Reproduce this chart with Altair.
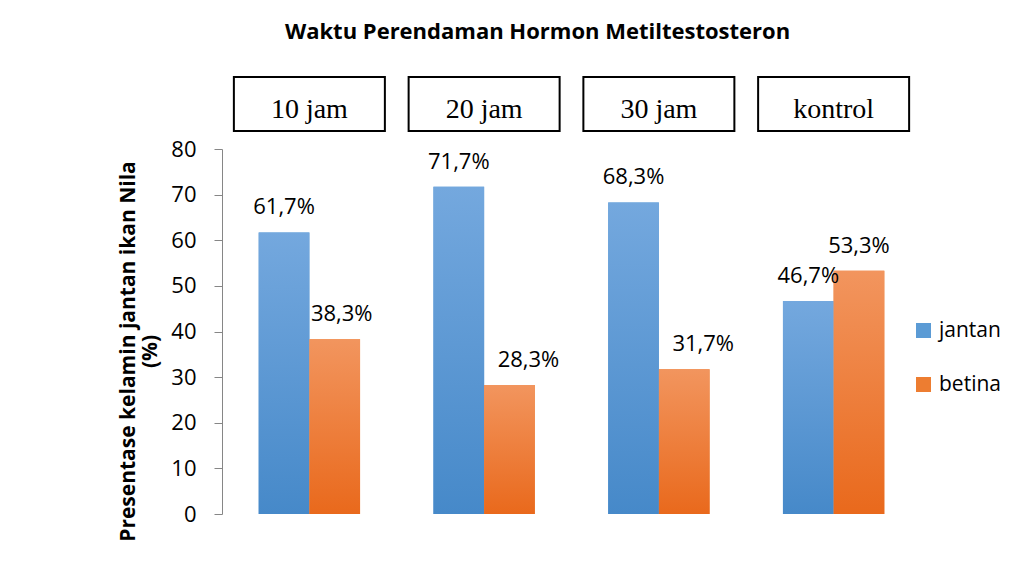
import altair as alt
import pandas as pd

title_text = "Waktu Perendaman Hormon Metiltestosteron"
y_title = ["Presentase kelamin jantan ikan Nila", "(%)"]
categories = ["10 jam", "20 jam", "30 jam", "kontrol"]
series = ["jantan", "betina"]
jantan = [61.7, 71.7, 68.3, 46.7]
betina = [38.3, 28.3, 31.7, 53.3]
y_ticks = [0, 10, 20, 30, 40, 50, 60, 70, 80]

rows = []
for i, c in enumerate(categories):
    for s, vals in zip(series, [jantan, betina]):
        v = vals[i]
        rows.append({"kategori": c, "jenis": s, "nilai": v,
                     "label": f"{v:.1f}".replace(".", ",") + "%"})
df = pd.DataFrame(rows)
cat_df = pd.DataFrame({"kategori": categories})
title_df = pd.DataFrame({"t": [title_text]})

FONT = "Open Sans"

x = alt.X("kategori:N", sort=categories, axis=None,
          scale=alt.Scale(domain=categories, paddingInner=0.42, paddingOuter=0.21))
xoff = alt.XOffset("jenis:N", sort=series,
                   scale=alt.Scale(domain=series, paddingInner=0, paddingOuter=0))
y = alt.Y("nilai:Q",
          scale=alt.Scale(domain=[0, 80], nice=False),
          axis=alt.Axis(values=y_ticks, title=y_title, grid=False,
                        domainColor="#868686", tickColor="#868686", tickSize=8,
                        labelPadding=18, labelFont=FONT, labelFontSize=22,
                        labelColor="black",
                        titleFont=FONT, titleFontSize=21, titleFontWeight="bold",
                        titleColor="black", titleX=-84, titleY=202,
                        titleBaseline="bottom", titleAlign="center",
                        titleLineHeight=22))

blue_grad = alt.Gradient(gradient="linear", x1=0, x2=0, y1=0, y2=1,
                         stops=[alt.GradientStop(color="#74a8de", offset=0),
                                alt.GradientStop(color="#4689c9", offset=1)])
orange_grad = alt.Gradient(gradient="linear", x1=0, x2=0, y1=0, y2=1,
                           stops=[alt.GradientStop(color="#f2955e", offset=0),
                                  alt.GradientStop(color="#e9691c", offset=1)])

bars_base = alt.Chart(df).mark_bar().encode(
    x=x, xOffset=xoff, y=y,
    color=alt.Color("jenis:N", sort=series,
                    scale=alt.Scale(domain=series, range=["#5b9bd5", "#ed7d31"]),
                    legend=alt.Legend(title=None, orient="none", legendX=691,
                                      legendY=171, direction="vertical",
                                      symbolType="square", symbolSize=225,
                                      symbolStrokeWidth=0, labelFont=FONT,
                                      labelFontSize=21, labelColor="black",
                                      rowPadding=32, padding=0, labelOffset=5,
                                      labelLimit=200)),
)
bars_j = alt.Chart(df).transform_filter(alt.datum.jenis == "jantan").mark_bar(
    fill=blue_grad).encode(x=x, xOffset=xoff, y=y)
bars_b = alt.Chart(df).transform_filter(alt.datum.jenis == "betina").mark_bar(
    fill=orange_grad).encode(x=x, xOffset=xoff, y=y)

label_style = dict(font=FONT, fontSize=22, color="black", baseline="alphabetic",
                   align="center", dy=-18)
labels_main = alt.Chart(df).transform_filter(
    "!(datum.jenis == 'betina' && datum.kategori != 'kontrol')"
).mark_text(**label_style).encode(x=x, xOffset=xoff, y=y, text="label:N")
labels_b10 = alt.Chart(df).transform_filter(
    "datum.jenis == 'betina' && datum.kategori == '10 jam'"
).mark_text(dx=7, **label_style).encode(x=x, xOffset=xoff, y=y, text="label:N")
labels_bshift = alt.Chart(df).transform_filter(
    "datum.jenis == 'betina' && (datum.kategori == '20 jam' || datum.kategori == '30 jam')"
).mark_text(dx=19, **label_style).encode(x=x, xOffset=xoff, y=y, text="label:N")

boxes = alt.Chart(cat_df).mark_bar(size=151, fill="white", stroke="black",
                                    strokeWidth=2).encode(
    x=x, y=alt.value(-72), y2=alt.value(-18))
box_text = alt.Chart(cat_df).mark_text(font="Liberation Serif", fontSize=28,
                                       color="black", baseline="alphabetic").encode(
    x=x, y=alt.value(-31), text="kategori:N")

title = alt.Chart(title_df).mark_text(font=FONT, fontSize=22, fontWeight="bold",
                                      color="black", baseline="alphabetic",
                                      align="center").encode(
    x=alt.value(315.5), y=alt.value(-110), text="t:N")

chart = alt.layer(bars_base, bars_j, bars_b, labels_main, labels_b10, labels_bshift,
                  boxes, box_text, title).properties(
    width=699, height=365,
    autosize=alt.AutoSizeParams(type="none"),
    padding={"left": 214, "top": 141, "right": 84, "bottom": 36},
).configure_view(stroke=None)

chart.save("out.html", embed_options={"renderer": "svg", "actions": False})
